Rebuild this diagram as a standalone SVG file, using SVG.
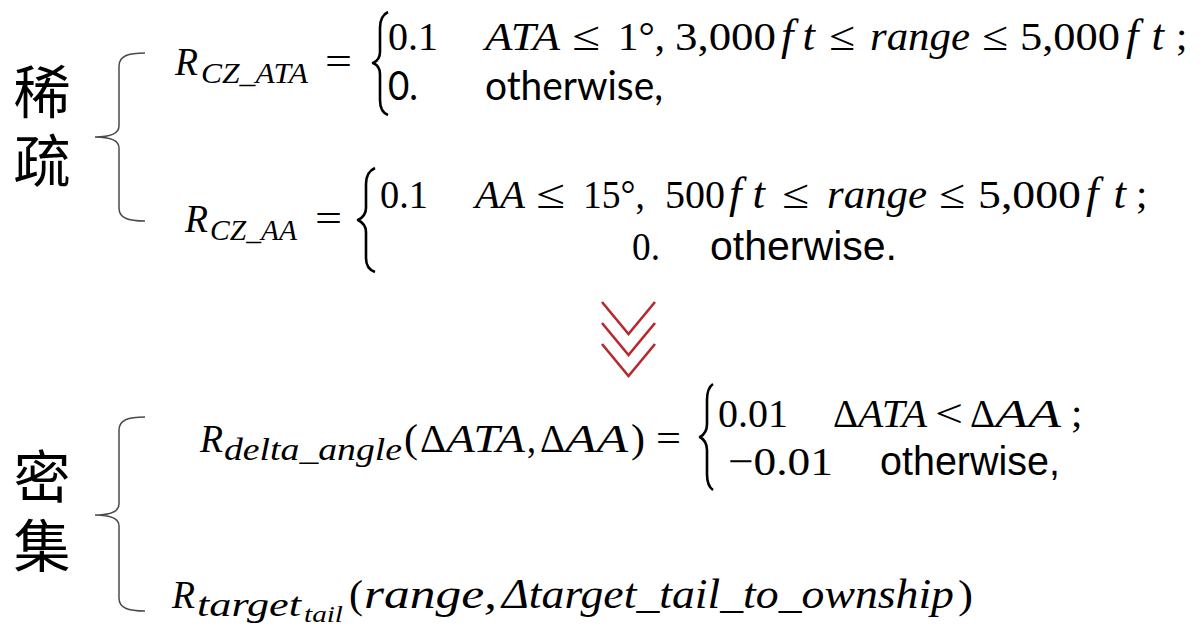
<svg xmlns="http://www.w3.org/2000/svg" width="1202" height="637" viewBox="0 0 1202 637">
<style>
.m{font-family:"Liberation Serif","DejaVu Serif",serif;font-size:41px;fill:#000}
.mi{font-family:"Liberation Serif","DejaVu Serif",serif;font-size:41px;font-style:italic;fill:#000}
.ft{font-family:"Liberation Serif","DejaVu Serif",serif;font-size:45px;font-style:italic;fill:#000}
.s{font-family:"Liberation Serif","DejaVu Serif",serif;font-size:30px;font-style:italic;fill:#000}
.ss{font-family:"Liberation Serif","DejaVu Serif",serif;font-size:23px;font-style:italic;fill:#000}
.c{font-family:Lato,"Open Sans",sans-serif;font-size:41px;fill:#000}
.a{font-family:"Liberation Sans",Arial,sans-serif;font-size:41px;fill:#000}
.cjk{font-family:"Noto Sans CJK SC","Noto Sans CJK TC",sans-serif;font-size:57px;fill:#000;writing-mode:vertical-rl;letter-spacing:12px}
.lb{fill:none;stroke:#4a4a4a;stroke-width:1.5}
.cb{fill:none;stroke:#000;stroke-width:2.6;stroke-linejoin:round}
.chev{fill:none;stroke:#b8282c;stroke-width:2.6}
</style>

<g id="label-sparse">
<text class="cjk" x="42" y="63">稀疏</text>
<path class="lb" d="M145,53 C128,53 119,56 119,66 L119,126 C119,134 110,137 95,137 C110,137 119,140 119,148 L119,208 C119,218 128,221 145,221"/>
</g>

<g id="eq-cz-ata">
<text class="mi" x="175" y="75" textLength="23" lengthAdjust="spacingAndGlyphs">R</text>
<text class="s" x="201" y="83" textLength="107" lengthAdjust="spacingAndGlyphs">CZ_ATA</text>
<text class="m" x="325" y="75" textLength="27" lengthAdjust="spacingAndGlyphs">=</text>
<path class="cb" d="M388,12 Q380,16 380,28 L380,52 Q380,60 373,63 Q380,66 380,74 L380,100 Q380,112 388,115"/>
<text class="m" x="388" y="50" textLength="50" lengthAdjust="spacingAndGlyphs">0.1</text>
<text class="mi" x="485" y="50" textLength="75" lengthAdjust="spacingAndGlyphs">ATA</text>
<text class="m" x="572" y="50" textLength="28" lengthAdjust="spacingAndGlyphs">≤</text>
<text class="m" x="618" y="50" textLength="47" lengthAdjust="spacingAndGlyphs">1°,</text>
<text class="m" x="675" y="50" textLength="101" lengthAdjust="spacingAndGlyphs">3,000</text>
<text class="ft" x="781" y="50" textLength="34" lengthAdjust="spacing">ft</text>
<text class="m" x="829" y="50" textLength="26" lengthAdjust="spacingAndGlyphs">≤</text>
<text class="mi" x="870" y="50" textLength="100" lengthAdjust="spacingAndGlyphs">range</text>
<text class="m" x="982" y="50" textLength="26" lengthAdjust="spacingAndGlyphs">≤</text>
<text class="m" x="1020" y="50" textLength="100" lengthAdjust="spacingAndGlyphs">5,000</text>
<text class="ft" x="1126" y="50" textLength="38" lengthAdjust="spacing">ft</text>
<text class="m" x="1176" y="50">;</text>
<text class="c" x="388" y="100" textLength="30" lengthAdjust="spacingAndGlyphs">0.</text>
<text class="c" x="485" y="100" textLength="178" lengthAdjust="spacingAndGlyphs">otherwise,</text>
</g>

<g id="eq-cz-aa">
<text class="mi" x="185" y="232" textLength="23" lengthAdjust="spacingAndGlyphs">R</text>
<text class="s" x="210" y="240" textLength="87" lengthAdjust="spacingAndGlyphs">CZ_AA</text>
<text class="m" x="315" y="232" textLength="27" lengthAdjust="spacingAndGlyphs">=</text>
<path class="cb" d="M375,168 Q366,172 366,184 L366,208 Q366,216 358,220 Q366,224 366,232 L366,258 Q366,269 375,272"/>
<text class="m" x="380" y="208" textLength="48" lengthAdjust="spacingAndGlyphs">0.1</text>
<text class="mi" x="475" y="208" textLength="50" lengthAdjust="spacingAndGlyphs">AA</text>
<text class="m" x="536" y="208" textLength="29" lengthAdjust="spacingAndGlyphs">≤</text>
<text class="m" x="583" y="208" textLength="62" lengthAdjust="spacingAndGlyphs">15°,</text>
<text class="m" x="665" y="208" textLength="60" lengthAdjust="spacingAndGlyphs">500</text>
<text class="ft" x="729" y="208" textLength="36" lengthAdjust="spacing">ft</text>
<text class="m" x="782" y="208" textLength="27" lengthAdjust="spacingAndGlyphs">≤</text>
<text class="mi" x="827" y="208" textLength="100" lengthAdjust="spacingAndGlyphs">range</text>
<text class="m" x="939" y="208" textLength="26" lengthAdjust="spacingAndGlyphs">≤</text>
<text class="m" x="978" y="208" textLength="103" lengthAdjust="spacingAndGlyphs">5,000</text>
<text class="ft" x="1086" y="208" textLength="40" lengthAdjust="spacing">ft</text>
<text class="m" x="1136" y="208">;</text>
<text class="m" x="632" y="260" textLength="28" lengthAdjust="spacingAndGlyphs">0.</text>
<text class="a" x="710" y="260" textLength="187" lengthAdjust="spacingAndGlyphs">otherwise.</text>
</g>

<g id="connectors">
<g id="arrow-down">
<polyline class="chev" points="602,302 628.5,334 655,302"/>
<polyline class="chev" points="602,323 628.5,355 655,323"/>
<polyline class="chev" points="602,344 628.5,376 655,344"/>
</g>
</g>

<g id="label-dense">
<text class="cjk" x="42" y="448">密集</text>
<path class="lb" d="M145,417 C128,417 119,420 119,430 L119,504 C119,512 110,515 95,515 C110,515 119,518 119,526 L119,598 C119,608 128,611 145,611"/>
</g>

<g id="eq-delta-angle">
<text class="mi" x="200" y="452" textLength="23" lengthAdjust="spacingAndGlyphs">R</text>
<text class="s" x="224" y="460" textLength="178" lengthAdjust="spacingAndGlyphs" style="font-size:32px">delta_angle</text>
<text class="m" x="404" y="452" textLength="14" lengthAdjust="spacingAndGlyphs">(</text>
<text class="m" x="420" y="452" textLength="26" lengthAdjust="spacingAndGlyphs">Δ</text>
<text class="mi" x="446" y="452" textLength="79" lengthAdjust="spacingAndGlyphs">ATA</text>
<text class="m" x="527" y="452" textLength="9" lengthAdjust="spacingAndGlyphs">,</text>
<text class="m" x="540" y="452" textLength="25" lengthAdjust="spacingAndGlyphs">Δ</text>
<text class="mi" x="565" y="452" textLength="63" lengthAdjust="spacingAndGlyphs">AA</text>
<text class="m" x="631" y="452" textLength="14" lengthAdjust="spacingAndGlyphs">)</text>
<text class="m" x="656" y="452" textLength="25" lengthAdjust="spacingAndGlyphs">=</text>
<path class="cb" d="M713,384 Q707,388 707,400 L707,424 Q707,433 700,437 Q707,441 707,450 L707,474 Q707,486 713,490"/>
<text class="m" x="718" y="427" textLength="70" lengthAdjust="spacingAndGlyphs">0.01</text>
<text class="m" x="833" y="427" textLength="25" lengthAdjust="spacingAndGlyphs">Δ</text>
<text class="mi" x="858" y="427" textLength="69" lengthAdjust="spacingAndGlyphs">ATA</text>
<text class="m" x="935" y="427" textLength="28" lengthAdjust="spacingAndGlyphs">&lt;</text>
<text class="m" x="970" y="427" textLength="25" lengthAdjust="spacingAndGlyphs">Δ</text>
<text class="mi" x="995" y="427" textLength="66" lengthAdjust="spacingAndGlyphs">AA</text>
<text class="m" x="1071" y="427">;</text>
<text class="m" x="728" y="475" textLength="105" lengthAdjust="spacingAndGlyphs">−0.01</text>
<text class="a" x="880" y="475" textLength="180" lengthAdjust="spacingAndGlyphs">otherwise,</text>
</g>

<g id="eq-target-tail">
<text class="mi" x="172" y="608" textLength="23" lengthAdjust="spacingAndGlyphs">R</text>
<text class="s" x="197" y="616" textLength="104" lengthAdjust="spacingAndGlyphs" style="font-size:33px">target</text>
<text class="ss" x="304" y="622" textLength="39" lengthAdjust="spacingAndGlyphs">tail</text>
<text class="m" x="349" y="608" textLength="14" lengthAdjust="spacingAndGlyphs">(</text>
<text class="mi" x="364" y="608" textLength="133" lengthAdjust="spacingAndGlyphs" style="font-size:43px">range,</text>
<text class="mi" x="502" y="608" textLength="452" lengthAdjust="spacingAndGlyphs" style="font-size:43px">Δtarget_tail_to_ownship</text>
<text class="m" x="958" y="608" textLength="15" lengthAdjust="spacingAndGlyphs">)</text>
</g>
</svg>
